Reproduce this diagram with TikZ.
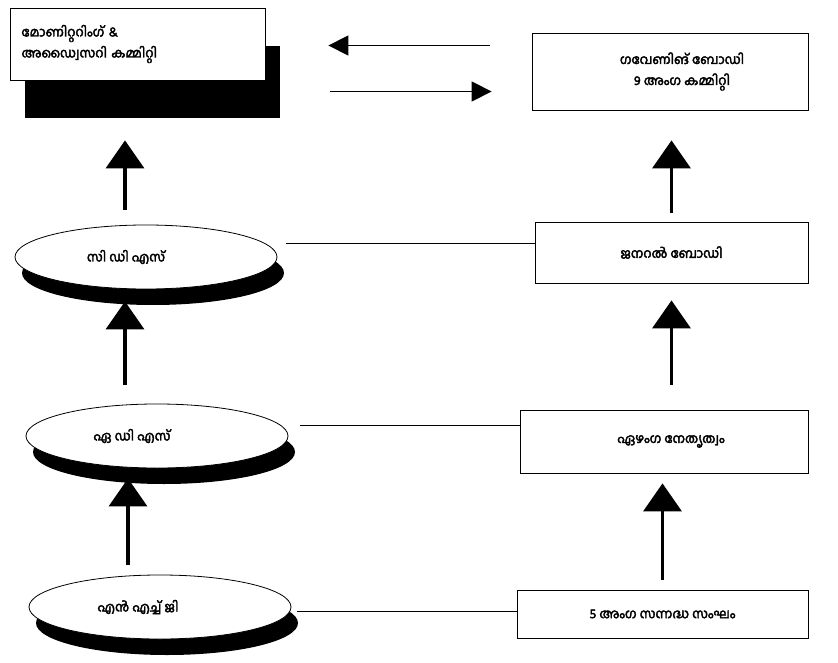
\documentclass[tikz,border=0pt]{standalone}
\usepackage{fontspec}
\newfontfamily\mal[Script=Malayalam, FakeBold=3]{Hind Kochi}
\usetikzlibrary{shapes.geometric,arrows.meta,shadows}
\begin{document}
\begin{tikzpicture}[x=1pt,y=-1pt,
  every node/.style={font=\mal\fontsize{13}{21}\selectfont},
  rbox/.style={draw, line width=0.8pt, fill=white, inner sep=0pt},
  ell/.style={ellipse, draw, line width=0.8pt, fill=white, minimum width=262pt, minimum height=64pt,
    general shadow={fill=black, shadow xshift=7pt, shadow yshift=-16pt}},
  bigarr/.style={line width=3.5pt, -{Triangle[width=38pt,length=28pt]}},
  thinarr/.style={line width=1.3pt, -{Triangle[width=20pt,length=20pt]}},
  link/.style={line width=0.8pt}]
\useasboundingbox (0,0) rectangle (838,663);

\node[rbox, minimum width=255pt, minimum height=72pt, text width=232pt, align=left,
  general shadow={fill=black, shadow xshift=15pt, shadow yshift=-38pt}] (mac) at (137.5,44)
  {മോണിറ്ററിംഗ് \&\\അഡ്വൈസറി കമ്മിറ്റി};
\node[rbox, minimum width=276pt, minimum height=77pt, align=center] (gov) at (670,71.5)
  {\hspace*{24pt}ഗവേണിങ് ബോഡി\\\hspace*{24pt}9 അംഗ കമ്മിറ്റി};
\node[rbox, minimum width=273pt, minimum height=61pt] (gb) at (671.5,252.5) {ജനറൽ ബോഡി};
\node[rbox, minimum width=288pt, minimum height=63pt] (lead) at (664,441.5) {\hspace*{14pt}ഏഴംഗ നേതൃത്വം};
\node[rbox, minimum width=291pt, minimum height=48pt] (bot) at (662.5,614) {5 അംഗ സന്നദ്ധ സംഘം};

\node[ell] (cds) at (146,257) {സി ഡി എസ്\hspace*{40pt}};
\node[ell] (ads) at (157,436) {ഏ ഡി എസ്\hspace*{50pt}};
\node[ell] (nhg) at (160,607) {എൻ എച്ച് ജി\hspace*{44pt}};

\draw[thinarr, shorten <=42pt, shorten >=63pt] ([yshift=26pt]gov.west) -- ([yshift=26pt]gov.west -| mac.east);
\draw[thinarr, shorten <=65pt, shorten >=40pt] ([yshift=-20pt]gov.west -| mac.east) -- ([yshift=-20pt]gov.west);

\draw[bigarr, shorten <=15pt, shorten >=60pt] ([xshift=-21pt]cds.north) -- ([xshift=-21pt]cds.north |- mac.south);
\draw[bigarr, shorten <=9pt, shorten >=30pt] (gb.north) -- (gb.north |- gov.south);
\draw[bigarr, shorten <=19pt, shorten >=12pt] ([xshift=-32pt]ads.north) -- ([xshift=-32pt]ads.north |- cds.south);
\draw[bigarr, shorten <=25pt, shorten >=17pt] (lead.north -| gb.north) -- (gb.south);
\draw[bigarr, shorten <=10pt, shorten >=10pt] ([xshift=-32pt]nhg.north) -- ([xshift=-32pt]nhg.north |- ads.south);
\draw[bigarr, shorten <=10pt, shorten >=10pt] (bot.north) -- (bot.north |- lead.south);

\draw[link] ([shift={(9pt,14pt)}]cds.east) -- ([yshift=14pt]cds.east -| gb.west);
\draw[link] ([shift={(12pt,11pt)}]ads.east) -- ([yshift=11pt]ads.east -| lead.west);
\draw[link] ([shift={(6pt,-4pt)}]nhg.east) -- ([yshift=-4pt]nhg.east -| bot.west);
\end{tikzpicture}
\end{document}
